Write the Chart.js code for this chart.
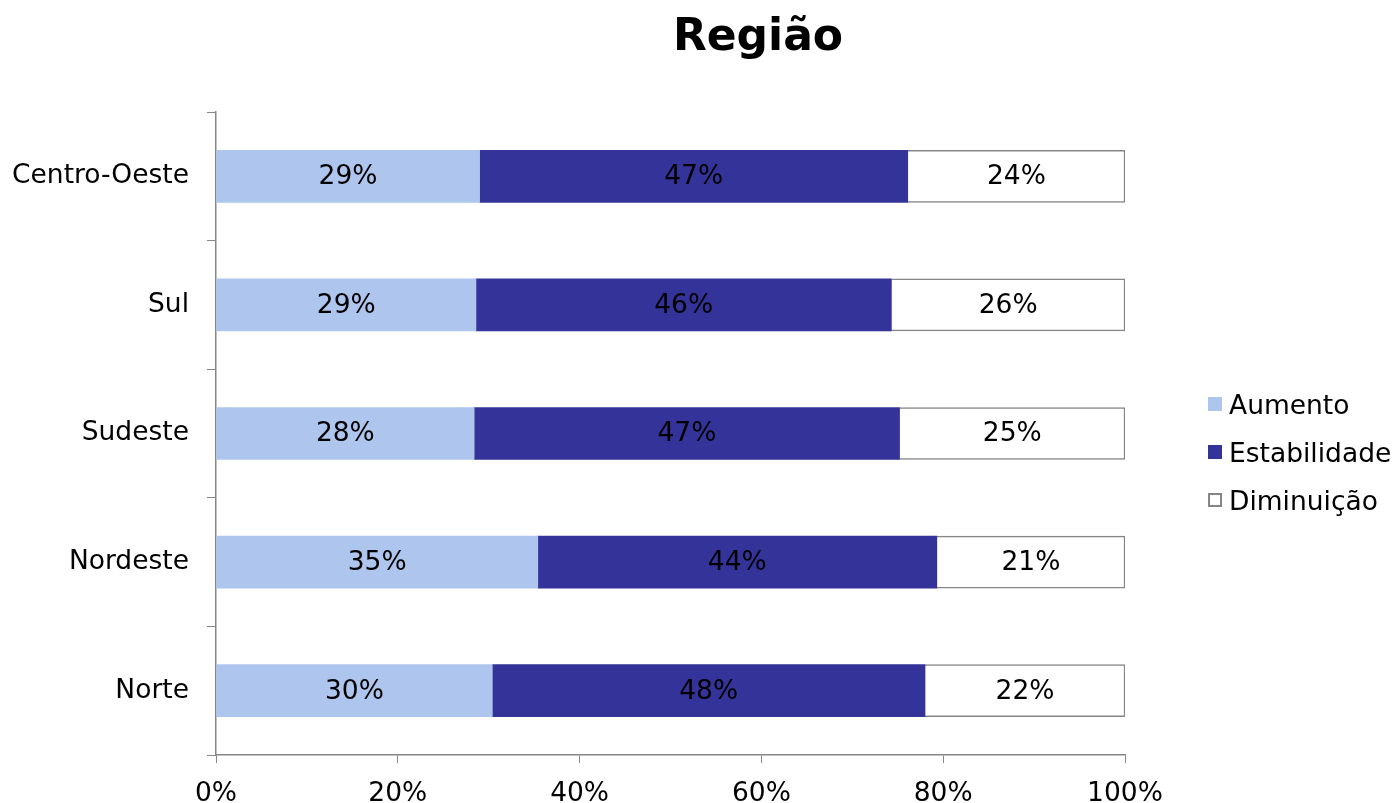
<!DOCTYPE html>
<html lang="pt">
<head>
<meta charset="UTF-8">
<title>Região</title>
<script src="https://cdn.jsdelivr.net/npm/chart.js"></script>
<style>
  body { margin: 0; background: #fff; font-family: 'DejaVu Sans', sans-serif; }
  .wrap { position: relative; width: 1393px; height: 803px; }
  #title {
    position: absolute; left: 558px; top: 13px; width: 400px;
    text-align: center; font-weight: bold; font-size: 44px; line-height: 44px; color: #000;
  }
  #legend { position: absolute; left: 1208px; top: 380px; }
  .item { display: flex; align-items: center; height: 48px; font-size: 26.5px; color: #000; }
  .box { width: 14px; height: 14px; margin-right: 7px; box-sizing: border-box; }
</style>
</head>
<body>
<div class="wrap">
  <canvas id="chart" width="1393" height="803"></canvas>
  <div id="title">Região</div>
  <div id="legend"></div>
</div>
<script>
// categories (top to bottom as shown)
const regions = ['Centro-Oeste', 'Sul', 'Sudeste', 'Nordeste', 'Norte'];

// shares in %
const aumento      = [29.0, 28.6, 28.4, 35.4, 30.4];
const estabilidade = [47.1, 45.7, 46.8, 43.9, 47.6];
const diminuicao   = [23.9, 25.7, 24.8, 20.7, 22.0];

const xTicks = [0, 20, 40, 60, 80, 100];

const axisGray = '#868686';

// draws the % value in the middle of each segment
const segmentLabels = {
  id: 'segmentLabels',
  afterDatasetsDraw(chart) {
    const ctx = chart.ctx;
    ctx.save();
    ctx.font = '26.5px "DejaVu Sans"';
    ctx.fillStyle = '#000';
    ctx.textAlign = 'center';
    ctx.textBaseline = 'middle';
    chart.data.datasets.forEach((ds, i) => {
      chart.getDatasetMeta(i).data.forEach((bar, j) => {
        const mid = (bar.x + bar.base) / 2;
        ctx.fillText(Math.round(ds.data[j]) + '%', mid, bar.y + 1);
      });
    });
    ctx.restore();
  }
};

Chart.defaults.font.family = '"DejaVu Sans"';
Chart.defaults.font.size = 26.5;
Chart.defaults.color = '#000';

const chart = new Chart(document.getElementById('chart'), {
  type: 'bar',
  data: {
    labels: regions,
    datasets: [
      { label: 'Aumento', data: aumento, backgroundColor: '#AEC6EE', borderWidth: 0 },
      { label: 'Estabilidade', data: estabilidade, backgroundColor: '#333399', borderWidth: 0 },
      { label: 'Diminuição', data: diminuicao, backgroundColor: '#FFFFFF', borderColor: axisGray, borderWidth: 1.5 }
    ]
  },
  options: {
    indexAxis: 'y',
    responsive: false,
    animation: false,
    layout: { padding: { top: 112, right: 268, left: 0, bottom: 0 } },
    datasets: { bar: { barThickness: 52 } },
    scales: {
      x: {
        stacked: true,
        min: 0,
        max: 100,
        afterBuildTicks(scale) { scale.ticks = xTicks.map(v => ({ value: v })); },
        afterFit(scale) { scale.height = 48; },
        ticks: { callback: v => v + '%', padding: 15, maxRotation: 0 },
        grid: { drawOnChartArea: false, drawTicks: true, tickLength: 8, color: axisGray },
        border: { color: axisGray, width: 1.5 }
      },
      y: {
        stacked: true,
        offset: true,
        afterFit(scale) { scale.width = 216; },
        ticks: { padding: 18 },
        grid: { offset: true, drawOnChartArea: false, drawTicks: true, tickLength: 9, color: axisGray },
        border: { color: axisGray, width: 1.5 }
      }
    },
    plugins: {
      legend: { display: false },
      title: { display: false },
      tooltip: { enabled: false }
    }
  },
  plugins: [segmentLabels]
});

// legend built from the chart datasets
const legendEl = document.getElementById('legend');
chart.data.datasets.forEach(ds => {
  const row = document.createElement('div');
  row.className = 'item';
  const box = document.createElement('span');
  box.className = 'box';
  box.style.background = ds.backgroundColor;
  if (ds.borderWidth) box.style.border = '2px solid ' + ds.borderColor;
  row.appendChild(box);
  row.appendChild(document.createTextNode(ds.label));
  legendEl.appendChild(row);
});
</script>
</body>
</html>
